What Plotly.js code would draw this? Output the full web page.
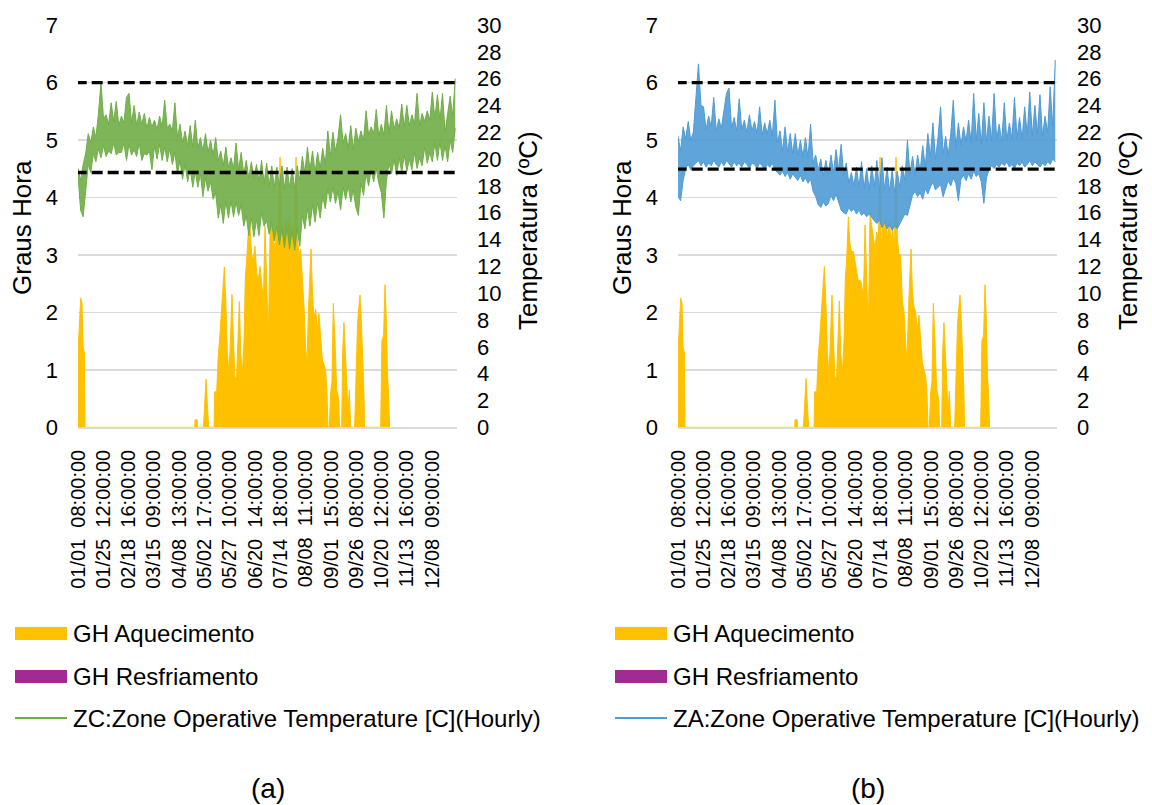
<!DOCTYPE html>
<html><head><meta charset="utf-8">
<script src="https://cdn.plot.ly/plotly-3.0.1.min.js"></script>
<style>html,body{margin:0;padding:0;background:#fff}#chart{width:1152px;height:805px}</style>
</head><body><div id="chart"></div>
<script>
// ---- x axis: occupied-hour index (08:00-18:00, 11 values per day, 365 days) ----
const tickIdx = [0,268,536,804,1072,1340,1608,1876,2144,2412,2680,2948,3216,3484,3752];
const tickDates = ["01/01","01/25","02/18","03/15","04/08","05/02","05/27","06/20","07/14","08/08","09/01","09/26","10/20","11/13","12/08"];
const tickTimes = ["08:00:00","12:00:00","16:00:00","09:00:00","13:00:00","17:00:00","10:00:00","14:00:00","18:00:00","11:00:00","15:00:00","08:00:00","12:00:00","16:00:00","09:00:00"];
const nIdx = 4015;
const sampleStep = 27; // temperature range per 27 occupied hours

// ---- ZC operative temperature (chart a): max / min per sample period, degC ----
const zcMax = [
 19.3,18.4,19.6,20.4,21.9,21.2,22.4,21.6,23.4,25.7,
 23.0,23.3,22.6,24.2,22.8,24.3,22.5,23.2,22.7,24.6,
 24.9,22.7,24.0,22.5,23.5,22.6,23.4,22.3,23.1,22.4,
 22.9,22.2,23.2,22.4,24.4,22.3,22.6,22.1,24.2,21.6,
 22.6,21.2,22.1,21.0,22.5,20.9,22.9,20.8,21.6,20.6,
 21.9,20.5,21.4,20.3,21.6,19.9,20.6,19.5,20.9,19.4,
 20.1,19.3,21.2,19.2,20.5,18.9,19.9,18.6,19.8,18.5,
 19.6,18.3,19.9,18.2,19.7,18.0,19.5,17.9,19.4,18.0,
 19.5,17.8,19.4,17.9,19.3,17.8,19.5,18.4,20.2,19.0,
 20.9,19.2,20.6,19.0,20.5,19.3,20.8,19.6,22.1,20.2,
 22.0,20.6,21.6,23.3,21.2,21.9,20.8,22.5,20.7,22.3,
 21.3,22.1,21.4,23.6,21.8,22.4,21.9,23.7,21.7,22.6,
 21.8,24.0,21.9,23.6,22.2,23.0,22.3,24.1,22.4,24.0,
 22.5,23.3,22.6,24.9,22.5,23.4,22.8,23.6,22.9,25.0,
 23.0,24.8,22.9,24.9,22.0,23.5,24.7,23.2,26.0];
const zcMin = [
 18.8,16.2,15.7,17.8,19.6,19.0,20.4,19.8,20.8,20.1,
 21.0,20.2,20.6,20.4,21.2,20.3,20.5,20.5,21.2,19.9,
 21.1,20.3,20.7,20.2,21.2,19.9,20.4,20.3,20.6,19.2,
 21.0,20.0,21.1,19.9,20.9,19.8,20.8,19.6,20.5,18.9,
 19.9,18.5,19.6,18.3,19.3,17.9,19.1,17.9,18.9,17.2,
 18.6,17.6,18.3,17.0,17.5,15.6,16.6,15.2,16.9,15.6,
 16.9,15.7,16.8,15.8,16.6,15.0,15.8,14.3,15.6,14.2,
 15.5,14.3,16.0,15.0,15.4,14.4,15.2,13.9,15.0,13.6,
 14.8,13.4,14.9,13.3,14.7,13.2,14.8,13.5,15.8,14.8,
 16.3,15.0,16.6,15.3,16.8,15.6,17.2,16.3,17.8,16.8,
 17.9,16.7,17.6,16.2,17.9,17.0,18.0,16.8,17.7,16.4,
 15.8,18.2,17.3,18.9,18.0,19.2,18.3,19.3,18.2,17.5,
 15.6,18.4,19.7,18.9,20.0,18.8,20.1,19.0,20.3,19.1,
 20.0,19.2,20.5,19.3,20.1,19.5,20.9,19.7,20.5,19.8,
 21.2,19.9,21.3,19.9,21.0,19.8,21.4,20.5,22.3];

// ---- ZA operative temperature (chart b): max / min per sample period, degC ----
const zaMax = [
 21.7,20.6,22.4,21.5,22.8,21.4,22.0,24.6,27.1,24.0,
 23.9,22.2,23.2,22.4,24.6,22.1,23.0,22.3,23.6,24.9,
 25.3,22.3,23.1,22.1,24.5,22.2,22.9,22.0,23.3,22.1,
 22.8,21.9,23.9,21.8,22.7,21.9,22.9,21.7,24.4,21.2,
 22.1,20.6,22.4,20.5,21.9,20.4,21.9,20.3,21.4,20.2,
 21.6,20.1,22.6,19.7,20.3,19.2,20.0,18.8,19.9,18.9,
 20.3,19.0,20.7,19.2,21.1,18.8,19.7,18.2,19.0,18.0,
 19.4,17.9,19.8,17.8,19.3,17.7,19.5,17.9,19.9,17.6,
 20.1,17.7,19.4,17.6,19.2,17.5,19.1,17.9,19.5,18.4,
 21.4,18.9,20.2,18.8,20.3,19.1,21.0,19.4,21.9,20.2,
 22.7,20.0,21.6,23.9,20.4,21.7,20.3,21.9,24.4,20.8,
 22.7,21.0,22.4,21.3,22.9,21.2,24.9,21.4,23.4,21.1,
 24.2,21.3,23.2,21.4,24.9,21.5,22.6,21.3,24.2,21.4,
 22.7,21.5,24.6,21.6,23.1,21.5,23.9,21.8,25.0,21.7,
 24.0,21.9,24.8,21.7,23.2,22.0,25.4,22.4,27.4];
const zaMin = [
 17.2,16.9,18.4,19.3,19.6,19.2,19.5,19.7,19.9,19.5,
 19.8,19.4,19.7,19.5,19.9,19.6,19.4,19.8,19.5,19.9,
 19.6,19.4,19.8,19.5,19.7,19.4,19.8,19.6,19.3,19.7,
 19.6,19.3,19.7,19.5,19.2,19.6,19.4,19.7,19.2,19.0,
 18.8,19.1,18.7,19.0,18.5,18.9,18.6,18.4,18.8,18.3,
 18.6,18.2,18.5,17.6,17.2,16.6,16.4,16.8,16.5,16.7,
 17.3,16.9,17.4,16.8,16.2,16.0,15.9,16.4,16.1,16.3,
 15.9,16.2,15.8,16.0,15.7,15.9,15.6,15.4,15.2,15.5,
 14.9,15.3,14.8,15.1,14.7,15.0,14.8,15.2,15.6,15.9,
 15.8,16.6,17.3,17.6,17.2,17.5,17.0,17.8,17.4,17.9,
 18.3,17.7,17.9,18.1,17.2,17.8,18.4,18.0,18.6,18.2,
 16.9,18.5,18.8,18.4,18.9,18.5,19.1,18.7,18.9,18.3,
 16.7,18.6,19.2,19.5,19.3,19.6,19.4,19.7,19.5,19.8,
 19.4,19.6,19.3,19.7,19.5,19.8,19.4,19.6,19.9,19.5,
 19.8,19.6,19.4,19.7,19.5,19.8,19.6,20.0,19.8];

// ---- GH Aquecimento (heating degree-hours), read at hour indices ----
const ghIdx = [0,14,28,42,53,67,74, 1236,1240,1262,1266, 1328,1339,1356,1370,1384,
 1441,1448,1469,1483,1504,1525,1550,1565,1582,1600,
 1617,1631,1645,1663,1680,1695,1709,1723,1741,1758,
 1772,1786,1804,1821,1839,1857,1874,1892,1909,1928,
 1945,1963,1981,1998,2016,2034,2051,2069,2087,2104,
 2122,2140,2154,2168,2186,2203,2221,2239,2256,2274,
 2291,2309,2323,2341,2358,2376,2394,2411,2425,2440,
 2454,2468,2482,2499,2517,2535,2552,2570,2588,2605,
 2623,2637,2648,
 2662,2676,2690,2704,2722,2740,2761,2771,
 2793,2803,2817,2832,2846,2860,2874,2888,
 2930,2944,2961,2975,2987,3000,3014,3028,3035,
 3206,3219,3237,3252,3265,3279,3289,3300];
const ghAquecA = [1.3,1.75,2.25,2.15,1.4,1.3,0, 0,0.13,0.13,0, 0,0.39,0.84,0.39,0,
 0,0.62,0.62,1.17,1.64,2.2,2.79,2.2,1.3,0.9,
 1.7,2.31,1.6,0.82,0.9,1.5,2.19,1.3,0.94,1.5,
 2.6,2.9,3.4,3.5,3.0,2.9,3.15,2.7,2.55,2.8,
 2.5,2.2,3.5,2.6,1.5,3.4,3.6,3.3,3.1,3.5,
 3.3,4.7,3.1,3.5,3.2,3.6,3.3,3.7,3.2,3.5,
 3.0,4.7,3.3,3.0,3.1,2.6,2.1,1.4,1.1,2.0,
 2.6,3.1,2.4,1.9,2.05,1.7,1.98,1.5,1.17,1.1,
 1.0,0.6,0,
 0,0.6,0.8,2.16,1.5,0.65,0.5,0,
 0,1.3,1.82,1.2,0.6,0.3,0.65,0,
 0,1.0,1.8,2.1,2.3,1.9,1.4,0.65,0,
 0,1.5,1.6,2.48,1.9,0.9,0.6,0];
const ghAquecB = [1.3,1.75,2.25,2.15,1.4,1.3,0, 0,0.13,0.13,0, 0,0.39,0.85,0.39,0,
 0,0.62,0.62,1.17,1.64,2.2,2.8,2.2,1.3,0.9,
 1.7,2.3,1.6,0.82,0.9,1.5,2.2,1.3,0.95,1.5,
 2.6,2.9,3.66,3.2,3.05,3.06,2.9,2.75,2.55,2.56,
 2.5,2.2,3.52,2.6,1.75,3.72,3.5,3.3,3.1,3.4,
 3.3,4.7,3.1,3.5,3.52,3.6,3.3,3.6,3.2,3.5,
 3.0,4.7,3.3,3.0,3.0,2.2,2.0,1.5,1.1,2.0,
 2.6,3.1,2.4,2.1,2.0,1.7,1.95,1.5,1.12,1.0,
 0.9,0.6,0,
 0,0.6,0.8,2.16,1.5,0.65,0.5,0,
 0,1.3,1.82,1.2,0.6,0.3,0.63,0,
 0,1.0,1.8,2.1,2.3,1.9,1.4,0.65,0,
 0,1.5,1.6,2.48,1.9,0.9,0.6,0];

// ---- comfort limits drawn as dashed lines (degC) ----
const limitsZC = [25.7, 19.0];
const limitsZA = [25.7, 19.25];

const seriesNames = ["GH Aquecimento","GH Resfriamento"];
const tempNames = ["ZC:Zone Operative Temperature [C](Hourly)","ZA:Zone Operative Temperature [C](Hourly)"];
const colors = {heat:'#FFC000', cool:'#A02B93', zc:'#70AD47', zcFill:'rgba(112,173,71,0.9)',
                za:'#4E9BD5', zaFill:'rgba(78,155,213,0.9)', grid:'#D9D9D9'};

const W=1152, H=805;
const PX = x => x/W, PY = y => 1 - y/H;
const FONT = '"Liberation Sans", Arial, sans-serif';
const tempX = zcMax.map((_, i) => i*sampleStep);
const tickText = tickDates.map((d,i) => d + '\u00a0\u00a0' + tickTimes[i]);

function band(lo, hi, xa, ya, col, fillCol, name){
  return [
    {x:tempX, y:lo, type:'scatter', mode:'lines', line:{color:col,width:1}, opacity:0.95,
     xaxis:xa, yaxis:ya, name:name, hoverinfo:'skip'},
    {x:tempX, y:hi, type:'scatter', mode:'lines', line:{color:col,width:1}, opacity:0.95,
     fill:'tonexty', fillcolor:fillCol, xaxis:xa, yaxis:ya, name:name, hoverinfo:'skip'}
  ];
}

const traces = [
 {x:ghIdx, y:ghAquecA, type:'scatter', mode:'lines', fill:'tozeroy', fillcolor:colors.heat,
  line:{color:colors.heat,width:1}, xaxis:'x', yaxis:'y', name:seriesNames[0], hoverinfo:'skip'},
 ...band(zcMin, zcMax, 'x', 'y2', colors.zc, colors.zcFill, tempNames[0]),
 {x:ghIdx, y:ghAquecB, type:'scatter', mode:'lines', fill:'tozeroy', fillcolor:colors.heat,
  line:{color:colors.heat,width:1}, xaxis:'x2', yaxis:'y3', name:seriesNames[0], hoverinfo:'skip'},
 ...band(zaMin, zaMax, 'x2', 'y4', colors.za, colors.zaFill, tempNames[1])
];

function xax(dom, anchor){
  return {domain:dom, anchor:anchor, range:[-0.5, nIdx-0.5], tickmode:'array', tickvals:tickIdx, ticktext:tickText,
    tickangle:-90, tickfont:{size:20,color:'#000'}, ticks:'', ticklabelstandoff:13,
    showgrid:false, zeroline:false, showline:true, linecolor:colors.grid, linewidth:1.5, automargin:false, fixedrange:true};
}
function yleft(anchor){
  return {domain:[PY(427.3), PY(25)], anchor:anchor, range:[0,7], dtick:1, tick0:0,
    gridcolor:colors.grid, gridwidth:1.5, zeroline:false, showline:false, ticks:'', ticklabelstandoff:19,
    tickfont:{size:22,color:'#000'}, automargin:false, fixedrange:true};
}
function yright(over, anchor){
  return {overlaying:over, anchor:anchor, side:'right', range:[0,30], dtick:2, tick0:0,
    showgrid:false, zeroline:false, showline:false, ticks:'', ticklabelstandoff:19,
    tickfont:{size:22,color:'#000'}, automargin:false, fixedrange:true};
}

const shapes = [];
const annotations = [];
function dashed(xref, yref, vals){
  vals.forEach(v => shapes.push({type:'line', xref:xref, yref:yref, x0:-25, x1:nIdx-25, y0:v, y1:v,
    line:{color:'#000', width:3.3, dash:'11px,5px'}, layer:'above'}));
}
dashed('x','y2',limitsZC);
dashed('x2','y4',limitsZA);

function legendBlock(x0, tempName, tempColor){
  const sw = 52;
  shapes.push({type:'rect', xref:'paper', yref:'paper', x0:PX(x0), x1:PX(x0+sw), y0:PY(640), y1:PY(627), fillcolor:colors.heat, line:{width:0}});
  shapes.push({type:'rect', xref:'paper', yref:'paper', x0:PX(x0), x1:PX(x0+sw), y0:PY(683), y1:PY(670), fillcolor:colors.cool, line:{width:0}});
  shapes.push({type:'line', xref:'paper', yref:'paper', x0:PX(x0), x1:PX(x0+sw), y0:PY(718), y1:PY(718), line:{color:tempColor,width:2}});
  [[seriesNames[0],633],[seriesNames[1],676],[tempName,718]].forEach(([t,y]) =>
    annotations.push({xref:'paper', yref:'paper', x:PX(x0+sw+4), y:PY(y), xanchor:'left', yanchor:'middle',
      text:t, showarrow:false, font:{size:24,color:'#000'}}));
}
legendBlock(15, tempNames[0], colors.zc);
legendBlock(615, tempNames[1], colors.za);

function title(x, y, t){
  annotations.push({xref:'paper', yref:'paper', x:PX(x), y:PY(y), xanchor:'center', yanchor:'middle',
    text:t, textangle:-90, showarrow:false, font:{size:26,color:'#000'}});
}
title(22, 228, 'Graus Hora');
title(528, 231, 'Temperatura (ºC)');
title(622, 228, 'Graus Hora');
title(1128, 231, 'Temperatura (ºC)');
annotations.push({xref:'paper', yref:'paper', x:PX(268), y:PY(788), xanchor:'center', yanchor:'middle', text:'(a)', showarrow:false, font:{size:28,color:'#000'}});
annotations.push({xref:'paper', yref:'paper', x:PX(868), y:PY(788), xanchor:'center', yanchor:'middle', text:'(b)', showarrow:false, font:{size:28,color:'#000'}});

const layout = {
  width:W, height:H, margin:{l:0,r:0,t:0,b:0}, paper_bgcolor:'#fff', plot_bgcolor:'rgba(0,0,0,0)',
  showlegend:false, font:{family:FONT, size:20, color:'#000'},
  xaxis: xax([PX(78), PX(457)], 'y'),
  yaxis: yleft('x'),
  yaxis2: yright('y','x'),
  xaxis2: xax([PX(678), PX(1057)], 'y3'),
  yaxis3: yleft('x2'),
  yaxis4: yright('y3','x2'),
  shapes: shapes, annotations: annotations
};
Plotly.newPlot('chart', traces, layout, {displayModeBar:false, staticPlot:true});
</script></body></html>
